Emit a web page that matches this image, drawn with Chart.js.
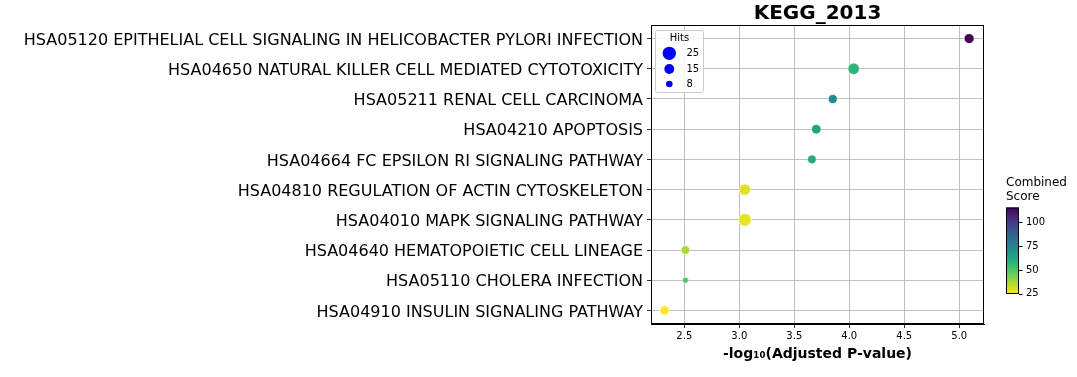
<!DOCTYPE html>
<html><head><meta charset="utf-8">
<script src="https://cdn.jsdelivr.net/npm/chart.js@4/dist/chart.umd.min.js"></script>
<style>html,body{margin:0;padding:0;background:#fff}#wrap{width:1077px;height:377px}</style>
</head><body><div id="wrap"><canvas id="c" width="1077" height="377"></canvas></div>
<script>
const categories = [
  "HSA05120 EPITHELIAL CELL SIGNALING IN HELICOBACTER PYLORI INFECTION",
  "HSA04650 NATURAL KILLER CELL MEDIATED CYTOTOXICITY",
  "HSA05211 RENAL CELL CARCINOMA",
  "HSA04210 APOPTOSIS",
  "HSA04664 FC EPSILON RI SIGNALING PATHWAY",
  "HSA04810 REGULATION OF ACTIN CYTOSKELETON",
  "HSA04010 MAPK SIGNALING PATHWAY",
  "HSA04640 HEMATOPOIETIC CELL LINEAGE",
  "HSA05110 CHOLERA INFECTION",
  "HSA04910 INSULIN SIGNALING PATHWAY"
];
const negLogP = [5.09, 4.04, 3.85, 3.70, 3.66, 3.05, 3.05, 2.51, 2.51, 2.32];
const hits = [15, 19, 13, 14, 12, 19, 23, 12, 7, 13];
const combinedScore = [115.7, 56.6, 73, 63, 61, 29.3, 28.3, 36.5, 50, 24.7];
const xTicks = [2.5, 3.0, 3.5, 4.0, 4.5, 5.0];
const legendHits = [25, 15, 8];
const colorbarTicks = [25, 50, 75, 100];
const chartTitle = "KEGG_2013";
const xTitle = "-log\u2081\u2080(Adjusted P-value)";
const legendTitle = "Hits";
const colorbarTitle = ["Combined", "Score"];

const FONT = "'DejaVu Sans', sans-serif";
const viridis = ["#440154","#482475","#414487","#355f8d","#2a788e","#21918c","#22a884","#44bf70","#7ad151","#bddf26","#fde725"];
function hex2rgb(h){return [parseInt(h.substr(1,2),16),parseInt(h.substr(3,2),16),parseInt(h.substr(5,2),16)];}
function viridisAt(t){
  t = Math.max(0, Math.min(1, t));
  const p = t * 10, i = Math.min(9, Math.floor(p)), f = p - i;
  const a = hex2rgb(viridis[i]), b = hex2rgb(viridis[i+1]);
  return `rgb(${a.map((v,k)=>Math.round(v+(b[k]-v)*f)).join(',')})`;
}
const vmin = Math.min(...combinedScore), vmax = Math.max(...combinedScore);
function scoreColor(s){ return viridisAt(1 - (s - vmin)/(vmax - vmin)); }
function hitRadius(h){ return Math.sqrt(Math.max(4, 7.8*h - 18.6))/2; }

const pts = categories.map((c,i)=>({x: negLogP[i], y: i}));

const extras = {
  id: 'extras',
  afterDraw(chart){
    const ctx = chart.ctx, a = chart.chartArea;
    ctx.save();
    ctx.strokeStyle = '#000'; ctx.lineWidth = 1;
    ctx.strokeRect(a.left + 0.5, a.top + 0.5, a.right - a.left - 1, a.bottom - a.top - 1);
    ctx.fillStyle = '#000';
    ctx.font = "bold 20px " + FONT;
    ctx.textAlign = 'center'; ctx.textBaseline = 'alphabetic';
    ctx.fillText(chartTitle, (a.left + a.right)/2, 19);
    const lx = 655.5, ly = 30.5, lw = 48, lh = 62;
    ctx.beginPath();
    if (ctx.roundRect) ctx.roundRect(lx, ly, lw, lh, 2); else ctx.rect(lx, ly, lw, lh);
    ctx.fillStyle = 'rgba(255,255,255,0.85)'; ctx.fill();
    ctx.strokeStyle = '#cccccc'; ctx.lineWidth = 1; ctx.stroke();
    ctx.fillStyle = '#000'; ctx.font = "10px " + FONT;
    ctx.textAlign = 'center'; ctx.textBaseline = 'middle';
    ctx.fillText(legendTitle, 679.5, 38.5);
    const rowsY = [53.3, 69, 84];
    legendHits.forEach((h, k)=>{
      ctx.beginPath(); ctx.arc(669.3, rowsY[k], hitRadius(h), 0, Math.PI*2);
      ctx.fillStyle = '#0000ff'; ctx.fill();
      ctx.fillStyle = '#000'; ctx.textAlign = 'left';
      ctx.fillText(String(h), 686.5, rowsY[k]);
    });
    const cx = 1006, cw = 13, cTop = 207.5, cBot = 294;
    const g = ctx.createLinearGradient(0, cBot, 0, cTop);
    for (let k = 0; k <= 20; k++) g.addColorStop(k/20, viridisAt(1 - k/20));
    ctx.fillStyle = g; ctx.fillRect(cx, cTop, cw, cBot - cTop);
    ctx.strokeStyle = '#000'; ctx.lineWidth = 1;
    ctx.strokeRect(cx + 0.5, cTop + 0.5, cw - 1, cBot - cTop - 1);
    ctx.font = "10px " + FONT; ctx.fillStyle = '#000';
    ctx.textAlign = 'left'; ctx.textBaseline = 'middle';
    colorbarTicks.forEach(v=>{
      const y = cBot - (v - vmin)/(vmax - vmin)*(cBot - cTop);
      ctx.beginPath(); ctx.moveTo(cx + cw, Math.round(y)+0.5); ctx.lineTo(cx + cw + 3.5, Math.round(y)+0.5); ctx.stroke();
      ctx.fillText(String(v), cx + cw + 7, y);
    });
    ctx.font = "12px " + FONT;
    ctx.fillText(colorbarTitle[0], 1006, 182.5);
    ctx.fillText(colorbarTitle[1], 1006, 197);
    ctx.restore();
  }
};

new Chart(document.getElementById('c'), {
  type: 'scatter',
  data: { datasets: [{
    data: pts,
    pointRadius: hits.map(hitRadius),
    pointHoverRadius: hits.map(hitRadius),
    pointBackgroundColor: combinedScore.map(scoreColor),
    pointBorderColor: '#ffffff',
    pointBorderWidth: 0.6
  }]},
  options: {
    responsive: false, animation: false, devicePixelRatio: 1,
    layout: { padding: { left: 0, right: 93, top: 25, bottom: 0 } },
    plugins: { legend: { display: false }, tooltip: { enabled: false }, title: { display: false } },
    scales: {
      x: {
        type: 'linear', min: 2.197, max: 5.225, z: 1,
        afterBuildTicks(s){ s.ticks = xTicks.map(v=>({value: v})); },
        afterFit(s){ s.height = 53; },
        ticks: { color: '#000', font: { family: FONT, size: 10 }, padding: 2, callback: v => Number(v).toFixed(1), maxRotation: 0 },
        grid: { color: '#b0b0b0', lineWidth: 0.8, tickColor: '#000', tickLength: 4, drawTicks: true },
        border: { color: '#000', width: 1 },
        title: { display: true, text: xTitle, color: '#000', font: { family: FONT, size: 14, weight: 'bold' }, padding: { top: 0, bottom: 14 } }
      },
      y: {
        type: 'linear', reverse: true, min: -0.45, max: 9.45, z: 1,
        afterBuildTicks(s){ s.ticks = categories.map((c,i)=>({value: i})); },
        afterFit(s){ s.width = 651; },
        ticks: { color: '#000', font: { family: FONT, size: 16 }, padding: 4, labelOffset: 2, callback: v => categories[v] },
        grid: { color: '#b0b0b0', lineWidth: 0.8, tickColor: '#000', tickLength: 4, drawTicks: true },
        border: { color: '#000', width: 1 }
      }
    }
  },
  plugins: [extras]
});
</script></body></html>
